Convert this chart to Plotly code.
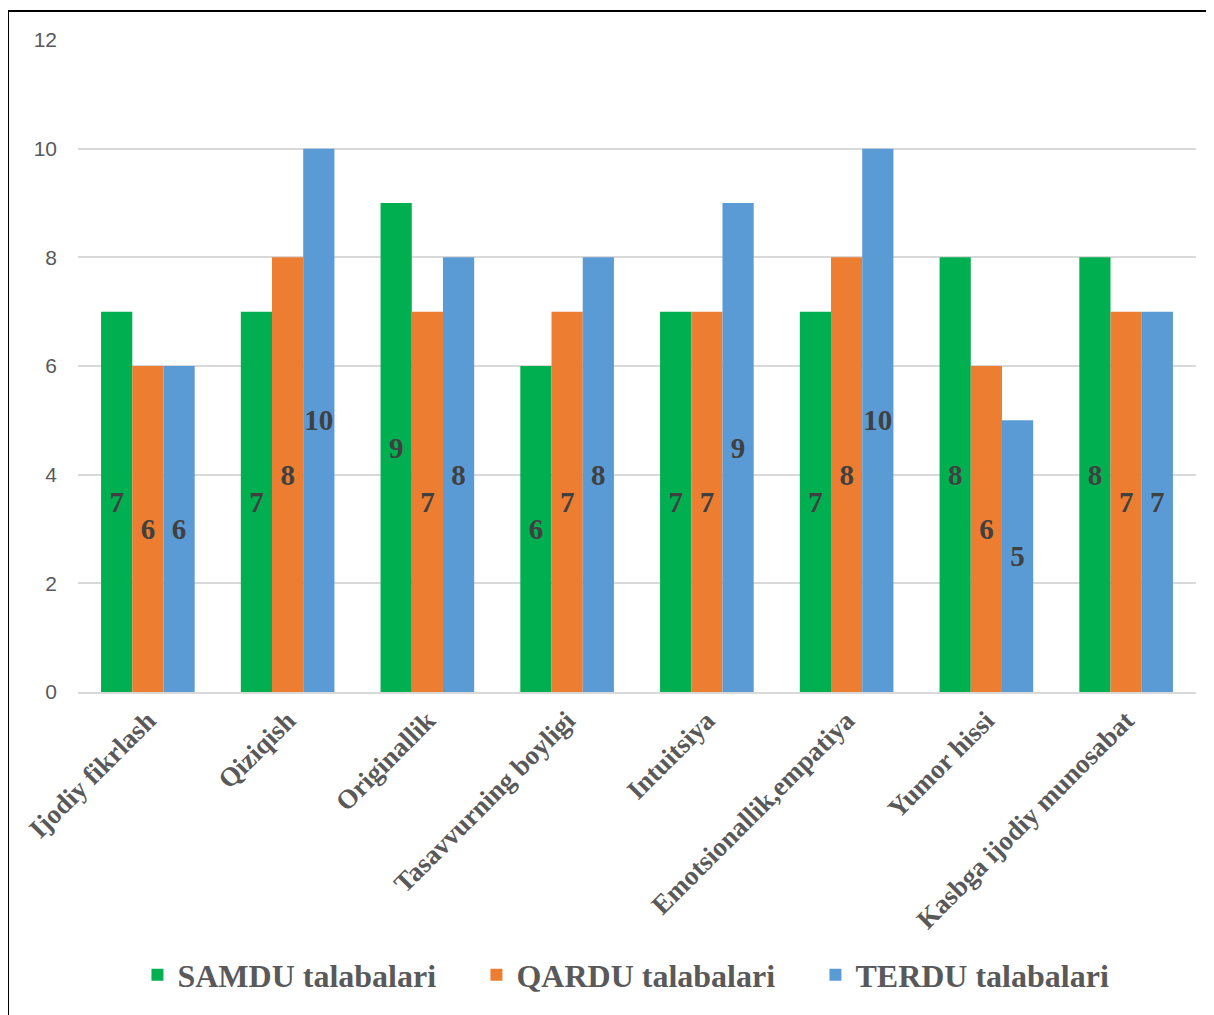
import plotly.graph_objects as go

categories = ["Ijodiy fikrlash", "Qiziqish", "Originallik", "Tasavvurning boyligi",
              "Intuitsiya", "Emotsionallik,empatiya", "Yumor hissi", "Kasbga ijodiy munosabat"]
series_names = ["SAMDU talabalari", "QARDU talabalari", "TERDU talabalari"]
samdu = [7, 7, 9, 6, 7, 7, 8, 8]
qardu = [6, 8, 7, 7, 7, 8, 6, 7]
terdu = [6, 10, 8, 8, 9, 10, 5, 7]
y_ticks = [0, 2, 4, 6, 8, 10, 12]

colors = ["#00B050", "#ED7D31", "#5B9BD5"]
serif = "Liberation Serif, Times New Roman, serif"

fig = go.Figure()
for name, vals, col in zip(series_names, [samdu, qardu, terdu], colors):
    fig.add_trace(go.Bar(
        x=categories, y=vals, name=name,
        marker=dict(color=col, line=dict(width=0)),
        text=[str(v) for v in vals],
        textposition="inside", insidetextanchor="middle",
        textangle=0, constraintext="none",
        textfont=dict(family=serif, size=29, color="#404040", weight="bold"),
    ))

fig.update_layout(
    width=1206, height=1007,
    margin=dict(l=70, r=18, t=32, b=321),
    paper_bgcolor="white", plot_bgcolor="white",
    barmode="group", bargap=0.33, bargroupgap=0,
    showlegend=True,
    legend=dict(orientation="h", x=0.508, xanchor="center", y=-0.434, yanchor="middle",
                font=dict(family=serif, size=32, color="#595959", weight="bold"),
                entrywidth=294, itemwidth=30),
    xaxis=dict(tickangle=-45, tickfont=dict(family=serif, size=27, color="#595959", weight="bold"),
               showline=True, linecolor="#D9D9D9", linewidth=2, ticks="", showgrid=False),
    yaxis=dict(range=[0, 12], tickvals=y_ticks, showgrid=True, gridcolor="#D9D9D9", gridwidth=1.5,
               zeroline=False, ticks="", ticklabelstandoff=20,
               tickfont=dict(family="Liberation Sans, Arial, sans-serif", size=21, color="#595959")),
    shapes=[dict(type="rect", xref="paper", yref="paper", x0=-0.0626, x1=1.03, y0=-0.52, y1=1.0443,
                 line=dict(color="black", width=2), fillcolor="rgba(0,0,0,0)", layer="below")],
)

fig.write_html("out.html")
